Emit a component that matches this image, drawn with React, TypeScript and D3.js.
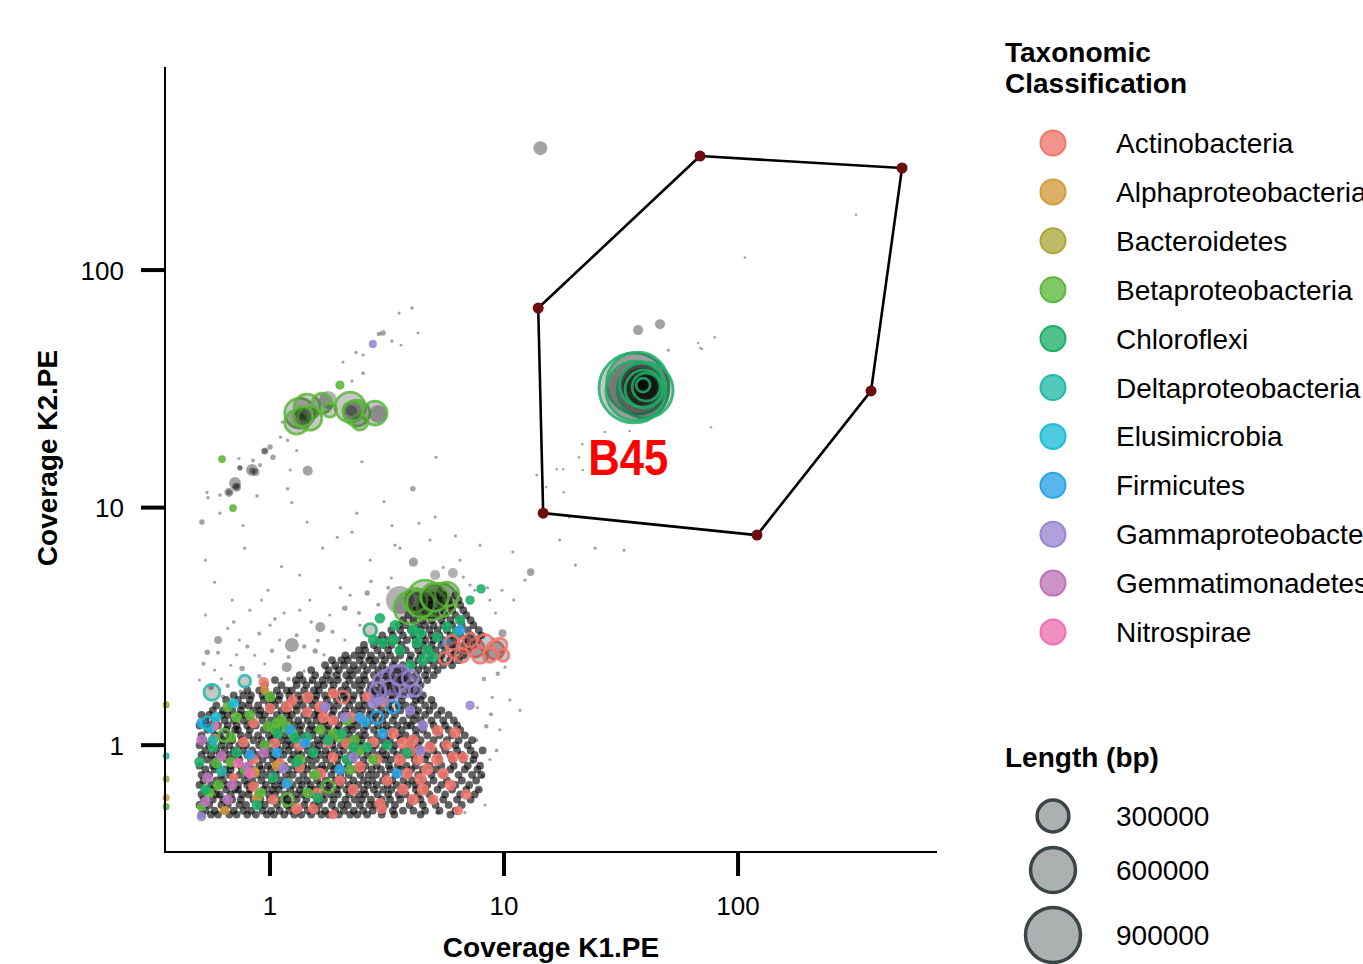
import React from 'react';
import * as d3 from 'd3';

// Binning plot: K1 vs K2 coverage, point size = contig length, colour = taxon.
// Polygon marks the selection used to pull out bin B45.

const W = 1363;
const H = 964;

type Contig = [number, number, number]; // [cov K1, cov K2, length bp]

const TAXA = [
  'Actinobacteria',
  'Alphaproteobacteria',
  'Bacteroidetes',
  'Betaproteobacteria',
  'Chloroflexi',
  'Deltaproteobacteria',
  'Elusimicrobia',
  'Firmicutes',
  'Gammaproteobacteria',
  'Gemmatimonadetes',
  'Nitrospirae',
];
const TAXA_COLORS = [
  '#ee766c', '#d49a3e', '#a9a83c', '#5cb83a', '#1daf68', '#22b9a8',
  '#1ebdd6', '#2aa4e6', '#9a86d2', '#bd74b9', '#ec70b1',
];

const X_TICKS = [1, 10, 100];
const Y_TICKS = [1, 10, 100];
const LEN_BREAKS = [300000, 600000, 900000];

// selection polygon vertices
const HULL_K1 = [68.8, 502, 370, 120.5, 14.7, 14.0];
const HULL_K2 = [302, 269, 31, 7.66, 9.48, 69.2];

// dense background of small unclassified contigs, one row per K2 value
const CORE_LEN = 18000;
const CORE_K2 = [
  0.51, 0.53, 0.56, 0.59, 0.62, 0.65, 0.68, 0.71, 0.75, 0.79, 0.82, 0.87, 0.91, 0.95, 1.0,
  1.05, 1.1, 1.16, 1.21, 1.27, 1.34, 1.4, 1.47, 1.55, 1.62, 1.7, 1.79, 1.88, 1.97, 2.07,
  2.17, 2.28, 2.39, 2.51, 2.64, 2.77, 2.9, 3.05, 3.2, 3.36, 3.53, 3.7, 3.89, 4.08, 4.28,
];
const CORE_K1: number[][] = [
  [0.51,0.56,0.6,0.67,0.72,0.8,0.87,0.97,1.04,1.15,1.27,1.36,1.5,1.66,1.78,1.97,2.2,2.36,2.6,3.0,3.4,4.4,5.9],
  [0.53,0.58,0.64,0.7,0.77,0.83,0.93,1.01,1.1,1.21,1.32,1.45,1.58,1.72,1.9,2.07,2.28,2.5,2.75,3.02,3.35,3.7,4.1,4.6,5.3,6.2],
  [0.5,0.55,0.62,0.66,0.74,0.79,0.9,0.95,1.07,1.18,1.24,1.4,1.54,1.62,1.84,2.02,2.15,2.42,2.66,2.82,3.1,3.42,3.95,4.5,5.1,5.8,6.6],
  [0.52,0.57,0.63,0.69,0.75,0.85,0.91,1.0,1.12,1.19,1.3,1.43,1.6,1.7,1.87,2.1,2.3,2.47,2.7,3.0,3.26,3.6,4.0,4.4,4.9,5.5,6.3,7.2],
  [0.51,0.59,0.61,0.68,0.76,0.81,0.89,0.99,1.05,1.16,1.29,1.38,1.52,1.68,1.81,1.95,2.18,2.4,2.55,2.88,3.2,3.55,3.8,4.3,4.8,5.6,6.5,7.5],
  [0.54,0.57,0.65,0.71,0.73,0.82,0.94,1.02,1.09,1.22,1.34,1.47,1.56,1.75,1.93,2.12,2.25,2.52,2.78,3.05,3.3,3.65,4.2,4.6,5.2,6.0,6.9,7.8],
  [0.5,0.56,0.61,0.66,0.73,0.8,0.86,0.96,1.05,1.13,1.25,1.37,1.49,1.64,1.8,1.99,2.18,2.38,2.62,2.86,3.18,3.48,3.88,4.2,4.7,5.4,6.2,7.1],
  [0.52,0.59,0.63,0.7,0.78,0.84,0.92,1.02,1.11,1.2,1.33,1.44,1.59,1.73,1.91,2.05,2.27,2.52,2.73,3.04,3.33,3.72,4.05,4.5,5.0,5.7,6.6,7.6],
  [0.51,0.55,0.62,0.67,0.74,0.8,0.89,0.96,1.06,1.17,1.25,1.39,1.53,1.63,1.83,2.0,2.17,2.43,2.64,2.84,3.12,3.44,3.9,4.3,4.9,5.5,6.4,7.3,8.0],
  [0.53,0.58,0.64,0.68,0.76,0.84,0.92,1.01,1.1,1.2,1.31,1.44,1.61,1.71,1.88,2.09,2.31,2.48,2.72,2.98,3.27,3.62,4.02,4.5,5.1,5.9,6.8,7.7],
  [0.5,0.57,0.6,0.68,0.75,0.81,0.9,0.98,1.06,1.15,1.28,1.39,1.51,1.67,1.82,1.96,2.16,2.41,2.56,2.86,3.22,3.52,3.82,4.2,4.8,5.4,6.1,7.0,7.9],
  [0.54,0.58,0.65,0.7,0.74,0.83,0.93,1.03,1.08,1.23,1.33,1.46,1.57,1.74,1.94,2.11,2.26,2.51,2.77,3.07,3.28,3.66,4.15,4.6,5.3,6.0,6.7,7.4],
  [0.51,0.56,0.61,0.67,0.73,0.8,0.88,0.97,1.04,1.14,1.26,1.36,1.5,1.65,1.79,1.98,2.21,2.35,2.61,2.92,3.14,3.49,3.86,4.1,4.7,5.2,5.9,6.6,7.5],
  [0.53,0.59,0.64,0.7,0.77,0.84,0.94,1.0,1.11,1.2,1.32,1.45,1.59,1.73,1.89,2.06,2.29,2.49,2.74,3.03,3.36,3.71,4.08,4.4,5.0,5.6,6.3,7.2,8.1],
  [0.5,0.55,0.62,0.67,0.74,0.79,0.9,0.96,1.07,1.17,1.24,1.41,1.53,1.63,1.85,2.01,2.16,2.41,2.67,2.83,3.11,3.43,3.93,4.3,4.8,5.5,6.2,7.0],
  [0.52,0.57,0.63,0.69,0.76,0.85,0.92,1.01,1.12,1.2,1.3,1.42,1.6,1.71,1.86,2.1,2.31,2.46,2.71,3.01,3.25,3.61,4.01,4.4,5.0,5.7,6.4,7.3],
  [0.51,0.58,0.61,0.68,0.75,0.81,0.89,0.99,1.05,1.16,1.29,1.38,1.52,1.68,1.81,1.95,2.18,2.4,2.55,2.88,3.2,3.55,3.8,4.2,4.7,5.3,6.0,6.8],
  [0.54,0.57,0.65,0.71,0.73,0.82,0.94,1.02,1.09,1.22,1.34,1.47,1.56,1.75,1.93,2.12,2.25,2.52,2.78,3.05,3.3,3.65,4.2,4.5,5.1,5.8,6.5],
  [0.5,0.56,0.6,0.66,0.72,0.8,0.87,0.97,1.04,1.15,1.27,1.36,1.5,1.66,1.78,1.97,2.2,2.36,2.6,2.9,3.15,3.5,3.85,4.0,4.5,5.0,5.6,6.3],
  [0.53,0.58,0.64,0.7,0.77,0.83,0.93,1.01,1.1,1.21,1.32,1.45,1.58,1.72,1.9,2.07,2.28,2.5,2.75,3.02,3.35,3.7,4.1,4.4,4.9,5.5,6.1],
  [0.51,0.55,0.62,0.66,0.74,0.79,0.9,0.95,1.07,1.18,1.24,1.4,1.54,1.62,1.84,2.02,2.15,2.42,2.66,2.82,3.1,3.42,3.95,4.2,4.6,5.2,5.8],
  [0.57,0.63,0.69,0.75,0.85,0.91,1.0,1.12,1.19,1.3,1.43,1.6,1.7,1.87,2.1,2.3,2.47,2.7,3.0,3.26,3.6,4.0,4.3,4.8,5.4],
  [0.59,0.68,0.76,0.81,0.89,0.99,1.05,1.16,1.29,1.38,1.52,1.68,1.81,1.95,2.18,2.4,2.55,2.88,3.2,3.55,3.8,4.1,4.6,5.0],
  [0.65,0.73,0.82,0.94,1.02,1.09,1.22,1.34,1.47,1.56,1.75,1.93,2.12,2.25,2.52,2.78,3.05,3.3,3.65,4.2,4.4,4.9],
  [0.7,0.77,0.83,0.93,1.01,1.1,1.21,1.32,1.45,1.58,1.72,1.9,2.07,2.28,2.5,2.75,3.02,3.35,3.7,4.1,4.5],
  [0.8,0.9,0.95,1.07,1.18,1.24,1.4,1.54,1.62,1.84,2.02,2.15,2.42,2.66,2.82,3.1,3.42,3.95,4.3],
  [0.95,1.12,1.3,1.43,1.6,1.7,1.87,2.1,2.3,2.47,2.7,3.0,3.26,3.6,4.0,4.4],
  [1.05,1.29,1.38,1.52,1.68,1.81,1.95,2.18,2.4,2.55,2.88,3.2,3.55,3.8,4.3,4.7],
  [1.34,1.56,1.75,1.93,2.12,2.25,2.52,2.78,3.05,3.3,3.65,4.2,4.6,5.0],
  [1.5,1.78,1.97,2.2,2.36,2.6,2.9,3.15,3.5,3.85,4.3,4.7,5.2],
  [1.72,1.9,2.07,2.28,2.5,2.75,3.02,3.35,3.7,4.1,4.5,5.0,5.5,6.0],
  [1.84,2.02,2.15,2.42,2.66,2.82,3.1,3.42,3.95,4.3,4.8,5.3,5.9,6.4],
  [2.1,2.3,2.47,2.7,3.0,3.26,3.6,4.0,4.4,4.9,5.4,6.0,6.7],
  [2.4,2.55,2.88,3.2,3.55,3.8,4.3,4.7,5.1,5.6,6.2,7.0],
  [2.52,2.78,3.05,3.3,3.65,4.2,4.5,4.9,5.4,6.0,6.8,7.5],
  [2.9,3.15,3.5,3.85,4.2,4.6,5.0,5.5,6.1,6.9,7.7],
  [3.02,3.35,3.7,4.1,4.5,4.9,5.3,5.9,6.5,7.2,8.0],
  [3.3,3.6,4.0,4.4,4.8,5.2,5.7,6.3,7.0,7.8],
  [3.55,3.8,4.3,4.6,5.0,5.5,6.0,6.6,7.4],
  [3.7,4.1,4.5,4.9,5.4,5.9,6.5,7.2],
  [3.9,4.3,4.7,5.1,5.6,6.2,6.9],
  [4.2,4.6,5.0,5.5,6.0,6.7],
  [4.5,4.9,5.4,5.9,6.5],
  [4.8,5.3,5.8,6.4],
  [5.1,5.6,6.2],
];

// scattered unclassified contigs
const GREY_PTS: Contig[] = [
  [4.04,69.2,4000],[3.56,65.9,3000],[4.29,54.3,2500],[3.04,54.3,9000],[2.92,53.8,6000],[3.32,50.2,3000],
  [3.63,48.3,2500],[2.5,43.9,3000],[2.33,45,3500],[2.05,41,3000],[2.5,36.8,4000],[2.24,34.1,3000],
  [1.13,22.9,3000],[1.11,19.8,3000],[1.19,19.2,3500],[1.0,18.0,9000],[0.95,17.3,16000],[0.95,17.3,9000],
  [0.906,15.1,5000],[1.3,17.4,3000],[1.03,16.3,9000],[0.838,14.4,42000],[0.84,14.3,12000],[0.87,14.1,16000],
  [0.737,16.1,3000],[0.846,15.8,4000],[0.744,14.7,10000],[0.744,14.7,6000],[0.709,12.7,42000],[0.72,12.2,25000],
  [0.72,12.2,12000],[0.668,11.6,25000],[0.668,11.6,10000],[0.611,11.3,4000],[0.538,11.6,3000],[0.543,11.0,4000],
  [0.512,8.69,9000],[0.88,11.2,4000],[1.45,14.3,30000],[1.19,12.0,4000],[2.47,15.6,3000],[4.08,12.0,9000],
  [5.12,16.3,3000],[5.08,9.12,3000],[3.07,10.6,3000],[2.35,9.48,3000],[1.44,8.69,3000],[3.32,8.4,3000],
  [4.33,8.6,3000],[1.22,14.4,3000],[1.24,10.5,3000],[0.767,8.4,3000],[0.611,9.48,3000],[1.94,7.5,3000],
  [14.3,326,58000],[37.4,55.9,30000],[46.4,59.2,30000],[50.4,46.0,3000],[67.5,49.3,2000],[70.1,46.5,2000],
  [79.5,52.2,2000],[107,113,2000],[319,171,2000],[76.6,21.8,2000],[27.0,20.8,2000],[34.4,21.0,2000],
  [21.6,18.5,2000],[20.9,16.3,2000],[21.7,14.4,2000],[16.8,14.5,2000],[17.9,14.5,2000],[13.8,13.7,2000],
  [15.1,12.2,2000],[18.0,11.6,2000],[19.0,9.1,2000],[68.8,47.0,2000],[32.6,6.62,3000],[20.2,5.73,3000],
  [13.0,5.35,17000],[10.9,6.5,3000],[17.3,7.3,3000],[24.5,6.75,3000],
  [0.53,6.01,3000],[0.58,4.85,3000],[0.69,4.08,3000],[0.78,6.75,3000],[0.98,4.49,3000],[1.12,5.65,3000],
  [1.34,5.2,3000],[1.68,6.75,3000],[2.24,7.88,3000],[2.68,6.01,3000],[3.42,6.95,3000],[4.1,5.9,25000],
  [5.33,4.72,3000],[6.49,6.01,3000],[7.5,4.49,3000],[8.7,4.08,3000],[9.8,4.49,3000],[7.9,6.95,3000],
  [6.2,7.6,3000],[4.83,7.3,3000],[3.3,5.05,3000],[2.2,4.28,3000],[1.8,3.53,3000],[1.34,3.7,3000],
  [1.0,3.2,3000],[0.74,2.77,3000],[0.6,2.77,19000],[0.54,2.46,9000],[1.24,2.64,58000],[1.18,2.13,30000],
  [1.64,3.14,30000],[2.09,3.77,9000],[2.6,4.37,9000],[1.56,2.49,9000],[0.82,3.7,3000],[0.92,4.08,3000],
  [0.68,2.17,3000],[0.86,2.39,3000],[1.1,2.77,3000],[1.48,4.08,3000],[2.09,2.77,3000],[2.42,3.2,3000],
  [0.5,1.88,3000],[0.58,2.07,3000],[0.53,3.53,3000],[9.85,2.96,19000],[7.7,1.44,3000],[8.9,1.59,3000],
  [10.1,2.13,3000],[10.6,1.55,3000],[9.6,1.16,3000],[11.7,1.4,3000],[8.7,0.87,3000],[7.8,0.65,3000],
  [8.3,0.56,3000],[6.8,0.52,3000],[11.0,4.08,3000],[12.3,4.95,3000],[7.16,4.72,3000],[8.5,4.6,3000],
  [7.0,3.42,3000],[3.59,6.75,3000],[0.62,1.9,3000],[0.72,2.4,3000],[0.95,2.2,3000],[1.4,2.05,3000],
  [0.66,3.1,3000],[1.15,3.6,3000],[1.7,2.4,3000],[5.5,5.6,3000],[6.7,5.1,3000],[9.2,3.6,3000],
  [0.56,1.75,9000],[0.66,1.78,6000],[0.9,1.95,6000],[1.2,1.9,6000],[0.76,2.1,9000],[1.02,2.5,6000],
  [1.4,2.6,6000],[1.9,2.1,6000],[2.2,2.35,6000],[2.6,2.3,6000],[8.2,1.9,6000],[9.4,2.0,6000],
  [8.4,1.2,6000],[7.6,1.05,6000],[8.1,0.74,6000],[5.2,0.52,6000],
  [0.52,2.2,5000],[0.6,2.45,5000],[0.8,2.6,5000],[1.3,2.9,5000],[1.6,2.75,5000],[1.85,3.0,5000],
  [2.4,3.6,5000],[2.9,3.9,5000],[3.2,4.6,5000],[1.05,3.4,4000],[0.7,3.3,4000],[1.5,3.3,4000],
  [2.0,4.6,4000],[2.7,4.9,4000],[0.9,2.95,5000],[1.2,2.35,5000],[0.63,1.6,6000],[0.75,1.68,6000],
  [1.5,1.85,6000],[1.85,2.0,6000],[9.0,2.8,4000],[8.8,1.35,5000],[9.3,0.95,4000],[7.3,0.85,6000],
];

// grey (unclassified) contigs sitting inside the big bins
const BIN_GREY: Contig[] = [
  [2.9,24.8,96000],[1.77,28.4,96000],[1.36,24.6,35000],[2.23,25.6,35000],
  [3.59,4.08,233000],[5.08,5.2,30000],[6.05,5.3,30000],
  [38.4,32.4,400000],[39.5,32.0,200000],[40.0,32.3,60000],
];

const ACTINO_PTS: Contig[] = [
  [0.94,1.84,26000],[1.45,1.59,32000],[1.86,1.65,26000],[1.64,1.45,32000],[1.0,1.43,26000],[1.18,1.45,32000],
  [1.44,1.38,26000],[2.2,1.31,32000],[2.42,1.31,26000],[1.69,1.31,32000],[1.86,1.27,26000],[0.85,1.24,26000],
  [0.58,1.07,20000],[0.77,1.03,26000],[1.05,1.02,26000],[1.34,1.0,32000],[1.77,1.03,26000],[2.13,1.02,32000],
  [2.76,1.03,26000],[3.36,1.12,32000],[3.7,1.02,36000],[4.09,1.05,32000],[3.97,0.95,36000],[4.83,0.98,32000],
  [5.7,1.0,26000],[6.18,1.13,32000],[3.59,0.87,36000],[4.3,0.87,32000],[5.18,0.87,36000],[6.06,0.89,32000],
  [6.7,0.89,26000],[5.49,0.76,32000],[4.7,0.79,36000],[3.85,0.76,32000],[3.16,0.71,26000],[3.7,0.65,32000],
  [4.5,0.65,36000],[4.98,0.59,26000],[4.09,0.59,32000],[2.95,0.57,26000],[2.27,0.65,32000],[1.99,0.71,26000],
  [1.64,0.76,32000],[1.34,0.81,26000],[1.1,0.84,26000],[0.85,0.87,26000],[0.7,0.73,20000],[0.85,0.67,26000],
  [1.03,0.59,26000],[1.3,0.54,32000],[1.53,0.54,26000],[1.86,0.51,20000],[1.59,0.63,26000],[2.42,0.81,32000],
  [2.87,0.87,26000],[1.86,0.89,26000],[6.37,0.53,20000],[3.0,0.54,26000],[2.05,1.59,45000],[4.4,0.72,36000],
  [5.9,0.68,32000],[5.2,1.15,32000],[2.6,1.6,26000],[3.05,1.52,26000],[1.25,1.55,26000],[6.9,0.62,26000],
  // cluster at high K1
  [6.18,2.51,76000],[6.82,2.64,76000],[7.52,2.56,96000],[8.3,2.71,76000],[9.15,2.51,96000],[6.62,2.39,58000],
  [7.9,2.39,76000],[9.61,2.64,58000],[7.16,2.77,58000],[8.71,2.39,58000],[5.99,2.7,58000],[5.6,2.32,43000],
  [9.9,2.39,43000],
];

const ALPHA_PTS: Contig[] = [
  [0.86,0.77,24000],[1.07,0.82,24000],[0.88,0.6,24000],[0.64,0.53,20000],[0.95,1.7,18000],[0.36,0.6,10000],
];

const BACTERO_PTS: Contig[] = [
  [0.36,0.72,10000],[0.36,1.48,10000],[1.2,0.7,18000],
];

const BETA_PTS: Contig[] = [
  [0.72,1.31,26000],[1.07,1.24,26000],[1.18,1.19,32000],[1.25,1.12,26000],[1.05,1.16,26000],[1.86,1.12,26000],
  [1.99,1.08,26000],[0.82,1.34,26000],[0.68,1.08,26000],[0.91,0.63,26000],[1.19,0.59,45000],[1.77,0.67,45000],
  [1.45,0.63,26000],[0.59,0.84,26000],[0.68,0.85,26000],[0.55,0.63,26000],[0.51,0.55,20000],[0.66,1.45,26000],
  [1.0,1.6,26000],[2.13,1.27,26000],[1.64,1.16,26000],[2.42,0.95,26000],[2.76,0.87,26000],[0.64,1.1,45000],
  [0.624,16.0,12000],[0.695,9.95,12000],[1.34,0.87,26000],[0.95,1.0,26000],[0.78,0.79,26000],[1.56,0.75,26000],
  [2.2,0.79,26000],[0.36,0.55,10000],[1.12,1.28,26000],[0.98,1.2,26000],[2.3,1.05,26000],[0.6,0.68,26000],
  // bin upper left
  [1.34,25.0,268000],[1.44,26.5,201000],[1.3,22.9,171000],[1.67,27.5,119000],[2.2,26.5,268000],
  [2.35,25.0,201000],[2.81,25.0,171000],[1.99,32.8,19000],[2.42,22.9,76000],[1.8,25.7,58000],[1.48,23.8,171000],
  [1.38,24.2,119000],[2.26,25.5,119000],
  // bin in the main cloud
  [3.97,3.78,304000],[4.6,4.16,385000],[5.33,4.08,344000],[4.92,3.89,268000],[4.17,4.08,171000],[5.7,4.32,171000],
  [4.4,3.95,230000],[5.05,4.2,230000],
];

const CHLORO_PTS: Contig[] = [
  [1.08,1.12,26000],[1.28,1.07,26000],[1.44,1.08,26000],[1.77,1.05,26000],[2.03,1.12,26000],[2.27,0.98,26000],
  [2.6,0.98,26000],[1.53,0.93,26000],[1.3,0.85,26000],[1.03,0.73,26000],[0.57,0.98,26000],[0.72,0.93,26000],
  [0.5,0.85,26000],[0.53,0.65,26000],[2.13,0.87,26000],[3.16,1.0,26000],[3.85,0.93,26000],[4.25,2.7,30000],
  [4.7,2.51,30000],[4.5,2.28,30000],[5.18,2.85,26000],[4.09,3.05,30000],[3.36,2.77,30000],[3.03,2.7,26000],
  [2.76,2.77,26000],[6.49,3.36,26000],[5.7,3.15,26000],[7.16,4.08,20000],[7.98,4.55,20000],[2.95,3.42,26000],
  [2.68,3.05,50000],[4.38,2.96,30000],[4.98,2.35,26000],[6.3,3.0,26000],[3.59,2.51,26000],[3.97,2.17,26000],
  [3.42,3.2,26000],[0.88,0.56,26000],[1.6,0.6,26000],
  // bin B45
  [35.9,31.9,1457000],[37.2,33.4,1143000],[40.1,31.2,932000],[36.5,31.0,1050000],[38.7,32.8,575000],
  [39.6,31.6,420000],[40.5,32.2,233000],[39.3,32.8,58000],
];

const DELTA_PTS: Contig[] = [
  [0.565,1.67,76000],[0.78,1.86,43000],[0.57,1.05,26000],[0.36,0.9,10000],[0.62,0.78,26000],
];

const ELUSI_PTS: Contig[] = [
  [0.54,1.24,45000],[0.56,1.18,26000],[0.7,1.5,26000],[0.59,1.31,26000],
];

const FIRMI_PTS: Contig[] = [
  [0.51,1.24,26000],[2.42,1.31,26000],[2.55,1.25,26000],[2.87,1.31,45000],[3.36,1.45,45000],[3.03,1.12,26000],
  [1.41,1.02,26000],[1.22,1.16,26000],[0.82,0.91,26000],[1.07,0.93,26000],[1.99,0.79,26000],[1.18,0.69,26000],
  [6.49,3.05,26000],[5.7,2.7,26000],[3.49,0.76,26000],
];

const GAMMA_PTS: Contig[] = [
  [1.72,1.45,26000],[2.09,1.31,26000],[3.97,1.4,26000],[4.5,1.21,26000],[0.51,0.5,20000],[2.95,1.55,26000],
  [2.27,0.89,26000],[1.14,0.8,26000],[4.38,0.95,26000],[7.16,1.47,20000],[2.75,48.8,14000],
  // bin
  [3.1,1.82,171000],[3.42,1.88,233000],[3.78,1.79,171000],[3.26,1.7,119000],[3.59,1.97,119000],
  [3.97,1.91,76000],[2.89,1.7,76000],[4.17,1.7,43000],[2.76,1.5,30000],
];

const GEMMA_PTS: Contig[] = [
  [0.94,0.93,26000],[0.8,0.81,26000],[0.69,0.68,26000],[0.54,0.73,26000],[0.53,0.58,26000],[0.66,0.59,26000],
  [0.51,1.05,26000],[0.62,0.9,26000],
];

const NITRO_PTS: Contig[] = [
  [0.73,0.84,26000],[0.82,0.76,26000],[0.58,1.21,20000],
];

const TAXON_PTS: Contig[][] = [
  ACTINO_PTS, ALPHA_PTS, BACTERO_PTS, BETA_PTS, CHLORO_PTS, DELTA_PTS,
  ELUSI_PTS, FIRMI_PTS, GAMMA_PTS, GEMMA_PTS, NITRO_PTS,
];

const FONT = "'Liberation Sans', Arial, Helvetica, sans-serif";

export default function App() {
  const x = d3.scaleLog().domain([0.356, 708]).range([165, 937]);
  const y = d3.scaleLog().domain([0.355, 716]).range([852, 67]);
  const size = d3.scaleSqrt().domain([0, 900000]).range([0, 27.5]);

  const [x0, x1] = x.range();
  const [y0, y1] = y.range();

  const hullPts = HULL_K1.map((k1, i) => [x(k1), y(HULL_K2[i])] as [number, number]);
  const hullPath = d3.line().curve(d3.curveLinearClosed)(hullPts) ?? '';

  const coloured = TAXON_PTS.flatMap((pts, t) => pts.map((p) => ({ p, t })));
  // small first, big bins drawn last
  const smallCol = coloured.filter((d) => size(d.p[2]) < 5.5);
  const bigCol = coloured.filter((d) => size(d.p[2]) >= 5.5);

  const dot = (p: Contig, t: number, key: string) => {
    const r = size(p[2]);
    const c = TAXA_COLORS[t];
    if (r < 5.5) {
      return (
        <circle key={key} cx={x(p[0])} cy={y(p[1])} r={r} fill={c} fillOpacity={0.88}
          stroke={c} strokeWidth={1.2} strokeOpacity={0.9} />
      );
    }
    return (
      <circle key={key} cx={x(p[0])} cy={y(p[1])} r={r} fill="#000" fillOpacity={0.22}
        stroke={c} strokeWidth={2.8} strokeOpacity={0.85} />
    );
  };

  return (
    <svg width={W} height={H} style={{ position: 'absolute', left: 0, top: 0, background: '#fff' }}
      fontFamily={FONT}>
      {/* unclassified background */}
      <g fill="#000" fillOpacity={0.62}>
        {CORE_K1.map((row, i) =>
          row.map((k1, j) => (
            <circle key={`c${i}-${j}`} cx={x(k1)} cy={y(CORE_K2[i])} r={size(CORE_LEN)} />
          )),
        )}
      </g>
      <g fill="#000" fillOpacity={0.36}>
        {GREY_PTS.map((p, i) => (
          <circle key={`g${i}`} cx={x(p[0])} cy={y(p[1])} r={size(p[2])} />
        ))}
      </g>

      {smallCol.map((d, i) => dot(d.p, d.t, `s${i}`))}

      <g fill="#000" fillOpacity={0.3}>
        {BIN_GREY.map((p, i) => (
          <circle key={`bg${i}`} cx={x(p[0])} cy={y(p[1])} r={size(p[2])} />
        ))}
      </g>
      {bigCol.map((d, i) => dot(d.p, d.t, `b${i}`))}

      {/* selection polygon */}
      <path d={hullPath} fill="none" stroke="#000" strokeWidth={2.6} strokeLinejoin="round" />
      {hullPts.map(([px, py], i) => (
        <circle key={`h${i}`} cx={px} cy={py} r={5.5} fill="#6e0d0d" />
      ))}
      <text x={x(22.9)} y={y(13.7)} fill="#ff0000" fontWeight="bold" fontSize={50}
        textLength={80} lengthAdjust="spacingAndGlyphs">B45</text>

      {/* axes */}
      <line x1={x0} x2={x1} y1={y0} y2={y0} stroke="#000" strokeWidth={2} />
      <line x1={x0} x2={x0} y1={y0 + 1} y2={y1} stroke="#000" strokeWidth={2} />
      {X_TICKS.map((t) => (
        <g key={`xt${t}`}>
          <line x1={x(t)} x2={x(t)} y1={y0} y2={y0 + 24} stroke="#000" strokeWidth={4} />
          <text x={x(t)} y={915} textAnchor="middle" fontSize={26}>{t}</text>
        </g>
      ))}
      {Y_TICKS.map((t) => (
        <g key={`yt${t}`}>
          <line x1={x0 - 24} x2={x0} y1={y(t)} y2={y(t)} stroke="#000" strokeWidth={4} />
          <text x={124} y={y(t) + 9.5} textAnchor="end" fontSize={26}>{t}</text>
        </g>
      ))}
      <text x={551} y={957} textAnchor="middle" fontSize={28} fontWeight="bold">Coverage K1.PE</text>
      <text transform="translate(57,458) rotate(-90)" textAnchor="middle" fontSize={28} fontWeight="bold">
        Coverage K2.PE
      </text>

      {/* taxon legend */}
      <text x={1005} y={62} fontSize={28} fontWeight="bold">Taxonomic</text>
      <text x={1005} y={93} fontSize={28} fontWeight="bold">Classification</text>
      {TAXA.map((name, i) => {
        const cy = 143 + i * 48.9;
        return (
          <g key={name}>
            <circle cx={1053} cy={cy} r={12.5} fill={TAXA_COLORS[i]} fillOpacity={0.78}
              stroke={TAXA_COLORS[i]} strokeWidth={2} />
            <text x={1116} y={cy + 10} fontSize={28}>{name}</text>
          </g>
        );
      })}

      {/* length legend */}
      <text x={1005} y={767} fontSize={28} fontWeight="bold">Length (bp)</text>
      {LEN_BREAKS.map((len, i) => {
        const cy = [816, 870, 935][i];
        return (
          <g key={len}>
            <circle cx={1053} cy={cy} r={size(len)} fill="#adb0b0" stroke="#3a4646" strokeWidth={3.5} />
            <text x={1116} y={cy + 10} fontSize={28}>{len}</text>
          </g>
        );
      })}
    </svg>
  );
}
